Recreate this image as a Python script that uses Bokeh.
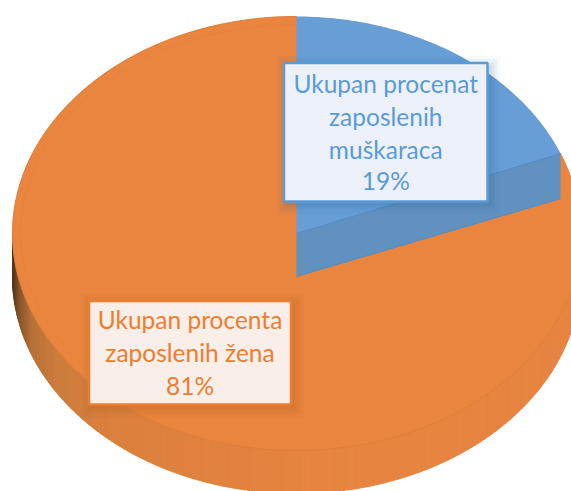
import numpy as np
from bokeh.plotting import figure
from bokeh.models import Range1d
from bokeh.core.properties import value
from bokeh.embed import file_html
from bokeh.resources import INLINE

categories = ["Ukupan procenat zaposlenih muškaraca", "Ukupan procenta zaposlenih žena"]
shares = [19, 81]
label_lines_men = ["Ukupan procenat", "zaposlenih", "muškaraca", "19%"]
label_lines_women = ["Ukupan procenta", "zaposlenih žena", "81%"]

CX, CY, RX, RY, DEPTH = 296, 233, 284, 217, 43
ORANGE, BLUE, WALL = "#e9853f", "#669ed5", "#6192bf"

p = figure(width=571, height=491, output_backend="svg", toolbar_location=None,
           x_range=Range1d(0, 571), y_range=Range1d(491, 0), min_border=0)
p.axis.visible = False
p.grid.visible = False
p.outline_line_color = None
p.background_fill_color = "white"


def pt(a, dy=0.0):
    """a: fraction of the pie clockwise from the top."""
    t = 2 * np.pi * np.asarray(a, dtype=float)
    return CX + RX * np.sin(t), CY - RY * np.cos(t) + dy


def side_colour(x):
    stops_x = [12, 18, 30, 55, 110, 300, 580]
    stops_r = [0x55, 0x86, 0xb5, 0xcc, 0xdc, 0xe6, 0xe6]
    stops_g = [0x35, 0x54, 0x70, 0x7c, 0x80, 0x84, 0x84]
    stops_b = [0x18, 0x28, 0x38, 0x3c, 0x3e, 0x40, 0x40]
    return "#%02x%02x%02x" % (int(np.interp(x, stops_x, stops_r)),
                              int(np.interp(x, stops_x, stops_g)),
                              int(np.interp(x, stops_x, stops_b)))


# rim of the disc, drawn as short strips so that it can darken to the left
edges = np.linspace(0.25, 0.75, 241)
for a0, a1 in zip(edges[:-1], edges[1:]):
    seg = np.linspace(a0, a1, 3)
    xt, yt = pt(seg)
    xb, yb = pt(seg, DEPTH)
    c = side_colour(xt.mean())
    p.patch(np.r_[xt, xb[::-1]], np.r_[yt, yb[::-1]], fill_color=c, line_color=c, line_width=1)

men = shares[0] / sum(shares)

# women's slice
a = np.linspace(men, 1, 300)
x, y = pt(a)
p.patch(np.r_[CX, x], np.r_[CY, y], fill_color=ORANGE, line_color=ORANGE, line_width=1)
# the solid under the men's slice is orange as well
x, y = pt(np.linspace(men, 0.5, 100), 0)
p.patch(np.r_[CX, x], np.r_[CY, y], fill_color=ORANGE, line_color=None)

# men's slice: cut face, then top
xe, ye = pt(men)
p.patch([CX, xe, xe, CX], [CY, ye, ye + DEPTH + 2, CY + DEPTH], fill_color=WALL, line_color=None)
a = np.linspace(0, men, 80)
x, y = pt(a)
p.patch(np.r_[CX, x], np.r_[CY, y], fill_color=BLUE, line_color=None)
p.line([CX, xe], [CY, ye], line_color="#4f8cc9", line_width=1)
p.line([CX, xe], [CY + DEPTH, ye + DEPTH + 2], line_color="#4f8cc9", line_width=1)

# faint bevel ring on the disc
a = np.linspace(0.3, 1, 300)
x, y = pt(a)
p.line(x, y, line_color="#c96f30", line_alpha=0.3, line_width=1)
a = np.linspace(0.62, 1, 200)
inner_x = CX + (RX - 8) * np.sin(2 * np.pi * a)
inner_y = CY - (RY - 8) * np.cos(2 * np.pi * a)
p.line(inner_x, inner_y, line_color="#d97a38", line_alpha=0.18, line_width=1)


def label(left, right, top, bottom, fill, edge, shadow, text_colour, lines, ys):
    for grow, alpha in ((10, 0.04), (7, 0.05), (4, 0.07), (1, 0.08)):
        p.quad(left=[left - grow + 3], right=[right + grow + 3], top=[top - grow + 3], bottom=[bottom + grow + 3],
               fill_color=shadow, fill_alpha=alpha, line_color=None)
    p.quad(left=[left], right=[right], top=[top], bottom=[bottom], fill_color=fill,
           line_color=edge, line_width=2.5)
    p.text(x=[(left + right) / 2] * len(lines), y=ys, text=lines, text_color=text_colour,
           text_font=value("Lato"), text_font_size="24.5px", text_align="center", text_baseline="middle")


label(283.5, 487, 62.5, 201, "#ecf1f9", "#5b9bd5", "#2a5f95", "#5b9bd5", label_lines_men, [83, 116, 149, 180])
label(88.5, 290.5, 300.5, 404, "#f9eee8", "#ed7d31", "#a0521c", "#ed7d31", label_lines_women, [319, 352, 385])

open("out.html", "w").write(file_html(p, INLINE))
